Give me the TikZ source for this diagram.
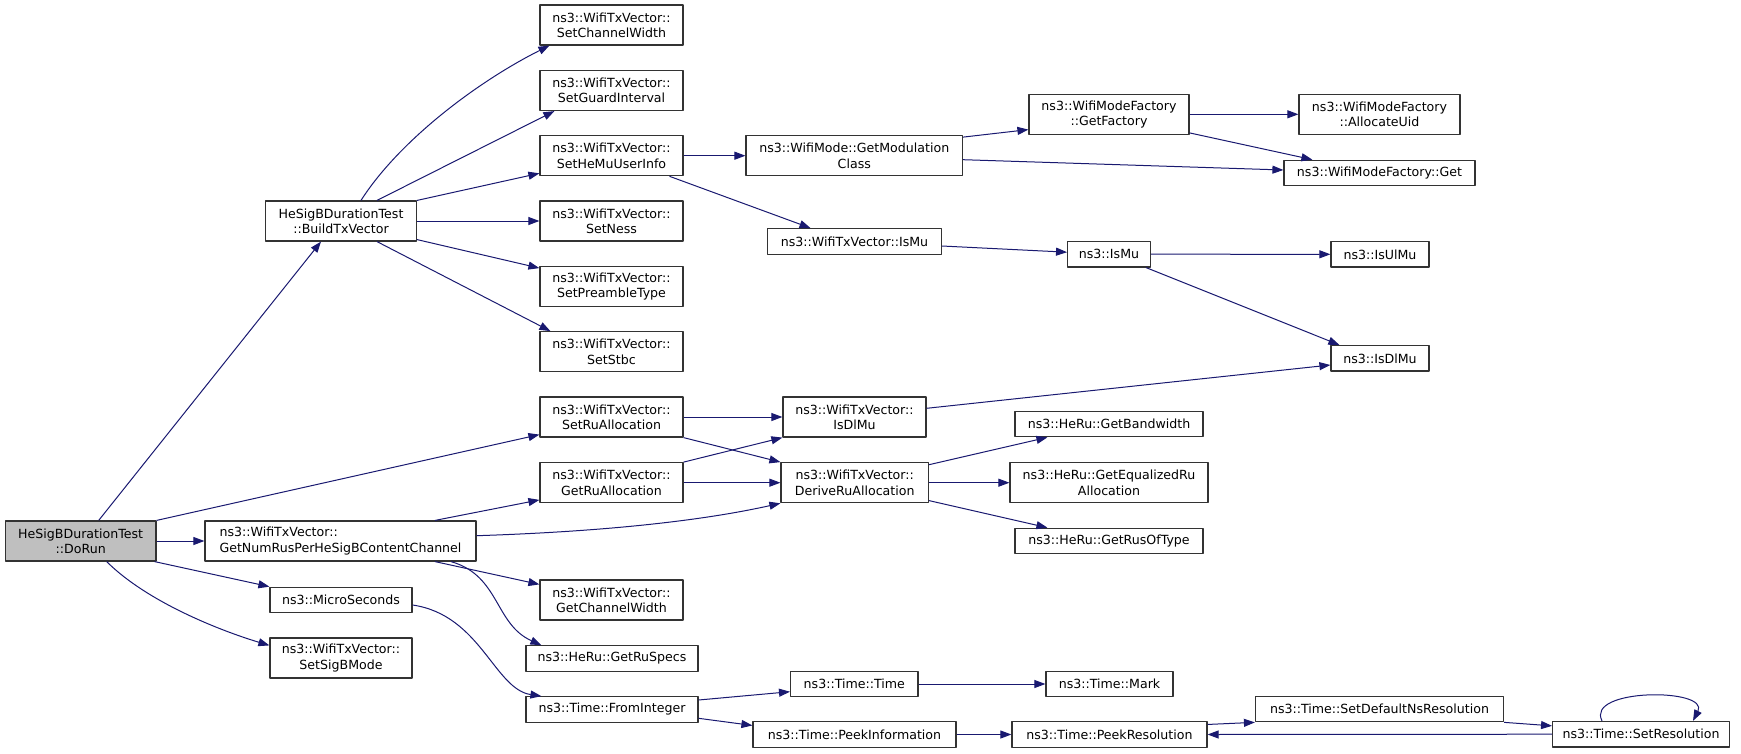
\documentclass[tikz,border=0pt]{standalone}
\usepackage{fontspec}
\setmainfont{DejaVu Sans}
\usetikzlibrary{arrows.meta}

\definecolor{edgeblue}{HTML}{191970}
\definecolor{boxline}{HTML}{333333}
\definecolor{callerfill}{HTML}{BFBFBF}

\begin{document}
\begin{tikzpicture}[x=1pt, y=-1pt, line join=round,
  fn/.style={draw=boxline, line width=1.2pt, fill=white, inner sep=0pt, align=center,
    font=\fontsize{12.6}{15.4}\selectfont},
  fnone/.style={fn, minimum height=25.5pt},
  fntwo/.style={fn, minimum height=40pt},
  call/.style={draw=edgeblue, line width=1pt, -{Triangle[length=11pt, width=8pt]}}]
\useasboundingbox (0,0) rectangle (1741,753);

% Caller and first level
\node[fntwo, fill=callerfill, minimum width=150.6pt] (dorun) at (80.7,541) {HeSigBDurationTest\\::DoRun};
\node[fntwo, minimum width=151pt] (buildtx) at (341,221) {HeSigBDurationTest\\::BuildTxVector};
\node[fntwo, minimum width=271pt, align=left] (numrus) at (340.5,541) {ns3::WifiTxVector::\\GetNumRusPerHeSigBContentChannel};
\node[fnone, minimum width=142pt] (microsec) at (341,600) {ns3::MicroSeconds};
\node[fntwo, minimum width=142pt] (sigbmode) at (341,658) {ns3::WifiTxVector::\\SetSigBMode};

% WifiTxVector setters and getters
\node[fntwo, minimum width=143pt] (chanwidth) at (611.5,25) {ns3::WifiTxVector::\\SetChannelWidth};
\node[fntwo, minimum width=143pt] (guardint) at (611.5,90.5) {ns3::WifiTxVector::\\SetGuardInterval};
\node[fntwo, minimum width=143pt] (hemuinfo) at (611.5,155.7) {ns3::WifiTxVector::\\SetHeMuUserInfo};
\node[fntwo, minimum width=143pt] (ness) at (611.5,221) {ns3::WifiTxVector::\\SetNess};
\node[fntwo, minimum width=143pt] (preamble) at (611.5,286.7) {ns3::WifiTxVector::\\SetPreambleType};
\node[fntwo, minimum width=143pt] (stbc) at (611.5,351.7) {ns3::WifiTxVector::\\SetStbc};
\node[fntwo, minimum width=143pt] (setruall) at (611.5,417) {ns3::WifiTxVector::\\SetRuAllocation};
\node[fntwo, minimum width=143pt] (getruall) at (611.5,482.7) {ns3::WifiTxVector::\\GetRuAllocation};
\node[fntwo, minimum width=143pt] (getchanwidth) at (611.5,600) {ns3::WifiTxVector::\\GetChannelWidth};
\node[fnone, minimum width=172pt] (ruspecs) at (612,658.5) {ns3::HeRu::GetRuSpecs};
\node[fnone, minimum width=172pt] (fromint) at (612,709.5) {ns3::Time::FromInteger};

% Third column
\node[fntwo, minimum width=216.5pt] (modclass) at (854.3,155.7) {ns3::WifiMode::GetModulation\\Class};
\node[fnone, minimum width=173.7pt] (txismu) at (854.5,241.4) {ns3::WifiTxVector::IsMu};
\node[fntwo, minimum width=143pt] (txisdlmu) at (854.5,417) {ns3::WifiTxVector::\\IsDlMu};
\node[fntwo, minimum width=147.4pt] (deriveru) at (854.7,482.7) {ns3::WifiTxVector::\\DeriveRuAllocation};
\node[fnone, minimum width=127.4pt] (timetime) at (854.3,684) {ns3::Time::Time};
\node[fnone, minimum width=203pt] (peekinfo) at (854.5,734.5) {ns3::Time::PeekInformation};

% Fourth column
\node[fntwo, minimum width=160pt] (getfactory) at (1109,114.3) {ns3::WifiModeFactory\\::GetFactory};
\node[fnone, minimum width=82.7pt] (nsismu) at (1109,254.2) {ns3::IsMu};
\node[fnone, minimum width=188pt] (bandwidth) at (1109,424) {ns3::HeRu::GetBandwidth};
\node[fntwo, minimum width=198pt] (equalru) at (1109,482.7) {ns3::HeRu::GetEqualizedRu\\Allocation};
\node[fnone, minimum width=188pt] (rusoftype) at (1109,541) {ns3::HeRu::GetRusOfType};
\node[fnone, minimum width=127pt] (timemark) at (1109.5,684) {ns3::Time::Mark};
\node[fnone, minimum width=195pt] (peekres) at (1109.5,734.5) {ns3::Time::PeekResolution};

% Last columns
\node[fntwo, minimum width=161pt] (allocuid) at (1379.5,114.3) {ns3::WifiModeFactory\\::AllocateUid};
\node[fnone, minimum width=191pt] (factoryget) at (1379.5,173) {ns3::WifiModeFactory::Get};
\node[fnone, minimum width=98pt] (isulmu) at (1380,254.3) {ns3::IsUlMu};
\node[fnone, minimum width=98pt] (isdlmu) at (1380,358.3) {ns3::IsDlMu};
\node[fnone, minimum width=248pt] (setdefres) at (1379.5,709) {ns3::Time::SetDefaultNsResolution};
\node[fnone, minimum width=176.7pt] (setres) at (1641,734.2) {ns3::Time::SetResolution};

% Calls from DoRun
\draw[call] ([xshift=18pt]dorun.north) -- ([xshift=-20pt]buildtx.south);
\draw[call] (dorun.north east) -- ([yshift=3pt]setruall.south west);
\draw[call] (dorun.east) -- (numrus.west);
\draw[call] ([xshift=-2pt]dorun.south east) -- (microsec.north west);
\draw[call] ([xshift=26pt]dorun.south) .. controls +(40,40) and +(-50,-15) .. ([yshift=-8pt]sigbmode.north west);

% Calls from BuildTxVector
\draw[call] ([xshift=20pt]buildtx.north) .. controls +(39,-61) and +(-70,35) .. ([xshift=10pt]chanwidth.south west);
\draw[call] ([xshift=36pt]buildtx.north) -- ([xshift=15pt]guardint.south west);
\draw[call] (buildtx.north east) -- ([yshift=3pt]hemuinfo.south west);
\draw[call] (buildtx.east) -- (ness.west);
\draw[call] ([yshift=2pt]buildtx.south east) -- ([yshift=-2pt]preamble.north west);
\draw[call] ([xshift=36pt]buildtx.south) -- ([xshift=11pt]stbc.north west);

% Calls from GetNumRusPerHeSigBContentChannel
\draw[call] ([xshift=94.5pt]numrus.north) -- ([yshift=3.4pt]getruall.south west);
\draw[call] ([yshift=5.3pt]numrus.east) .. controls +(124,-4) and +(-81,18) .. (deriveru.south west);
\draw[call] ([xshift=94.5pt]numrus.south) -- ([yshift=-5pt]getchanwidth.north west);
\draw[call] ([xshift=110.5pt]numrus.south) .. controls +(49,14) and +(-47,-21) .. ([xshift=16pt]ruspecs.north west);

% SetHeMuUserInfo branch
\draw[call] (hemuinfo.east) -- (modclass.west);
\draw[call] ([xshift=58pt]hemuinfo.south) -- ([xshift=-44pt]txismu.north);
\draw[call] ([yshift=-2pt]modclass.north east) -- ([yshift=5.3pt]getfactory.south west);
\draw[call] ([yshift=-4pt]modclass.east) -- ([yshift=3pt]factoryget.west);
\draw[call] (getfactory.east) -- (allocuid.west);
\draw[call] ([yshift=2pt]getfactory.south east) -- ([xshift=29pt]factoryget.north west);
\draw[call] ([yshift=-4.6pt]txismu.east) -- ([yshift=2pt]nsismu.west);
\draw[call] (nsismu.east) -- (isulmu.west);
\draw[call] ([xshift=-5pt]nsismu.south east) -- ([xshift=9pt]isdlmu.north west);

% RU allocation branch
\draw[call] (setruall.east) -- (txisdlmu.west);
\draw[call] (setruall.south east) -- (deriveru.north west);
\draw[call] (getruall.north east) -- (txisdlmu.south west);
\draw[call] (getruall.east) -- (deriveru.west);
\draw[call] ([yshift=8.7pt]txisdlmu.east) -- ([yshift=-6.7pt]isdlmu.west);
\draw[call] ([yshift=-2.6pt]deriveru.north east) -- ([xshift=33pt]bandwidth.south west);
\draw[call] (deriveru.east) -- (equalru.west);
\draw[call] ([yshift=2.7pt]deriveru.south east) -- ([xshift=33pt]rusoftype.north west);

% Time branch
\draw[call] ([yshift=-5pt]microsec.east) .. controls +(68,10) and +(-47,-7) .. ([xshift=16pt]fromint.north west);
\draw[call] ([yshift=9.5pt]fromint.east) -- ([yshift=-7.7pt]timetime.west);
\draw[call] ([yshift=-8.8pt]fromint.east) -- ([yshift=-4.3pt]peekinfo.north west);
\draw[call] (timetime.east) -- (timemark.west);
\draw[call] (peekinfo.east) -- (peekres.west);
\draw[call] ([yshift=-3.3pt]peekres.north east) -- (setdefres.south west);
\draw[call] (setdefres.south east) -- ([yshift=-5pt]setres.north west);
\draw[call] (setres.west) -- (peekres.east);
\draw[call] ([xshift=-39pt]setres.north) .. controls +(-17,-33) and +(17,-33) .. ([xshift=52pt]setres.north);
\end{tikzpicture}
\end{document}
